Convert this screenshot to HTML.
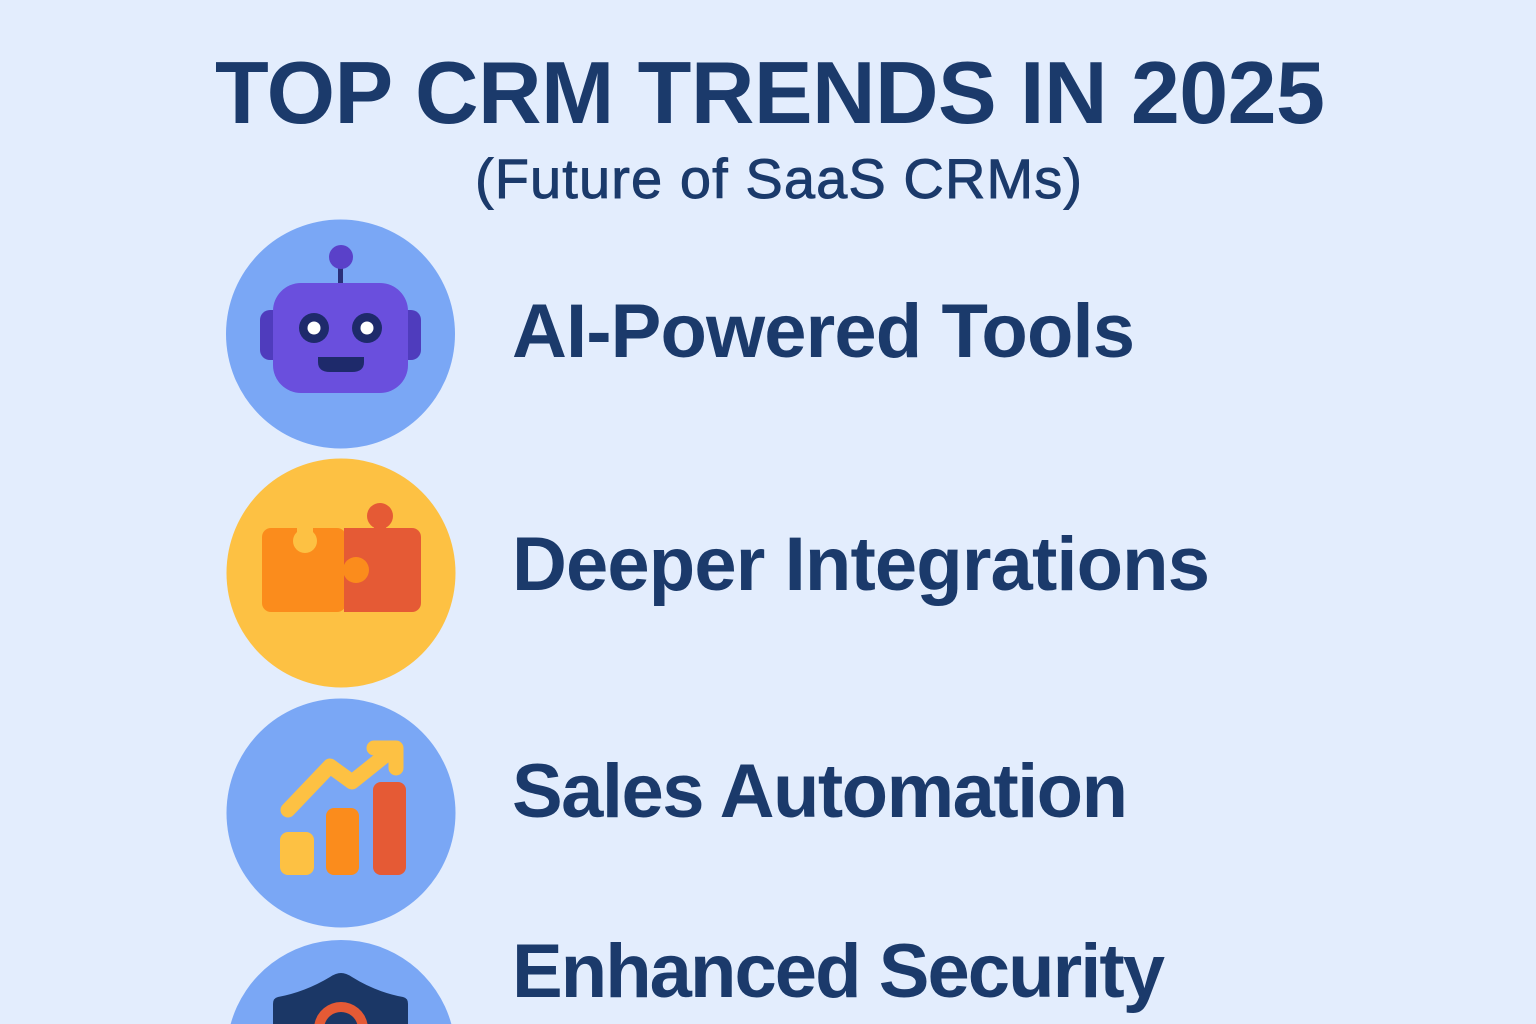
<!DOCTYPE html>
<html>
<head>
<meta charset="utf-8">
<style>
  html, body { margin: 0; padding: 0; background: #e3edfd; width: 1536px; height: 1024px; overflow: hidden; }
  svg { display: block; overflow: hidden; }
  .t { font-family: "Liberation Sans", Arial, sans-serif; fill: #1b3a6b; }
</style>
</head>
<body>
<svg width="1536" height="1024" viewBox="0 0 1536 1024" xmlns="http://www.w3.org/2000/svg">
  <rect x="0" y="0" width="1536" height="1024" fill="#e3edfd"/>

  <!-- Title -->
  <text class="t" x="215" y="123" font-size="88" font-weight="700" textLength="1110" lengthAdjust="spacing">TOP CRM TRENDS IN 2025</text>
  <text class="t" x="475" y="198" font-size="56" font-weight="400" stroke="#1b3a6b" stroke-width="0.9" textLength="607" lengthAdjust="spacing">(Future of SaaS CRMs)</text>

  <!-- Item labels -->
  <text class="t" x="512" y="357" font-size="76" font-weight="700" textLength="623" lengthAdjust="spacing">AI-Powered Tools</text>
  <text class="t" x="512" y="590" font-size="76" font-weight="700" textLength="698" lengthAdjust="spacing">Deeper Integrations</text>
  <text class="t" x="512" y="817" font-size="76" font-weight="700" textLength="616" lengthAdjust="spacing">Sales Automation</text>
  <text class="t" x="512" y="997" font-size="76" font-weight="700" textLength="653" lengthAdjust="spacing">Enhanced Security</text>

  <!-- Circle 1: Robot -->
  <circle cx="340.5" cy="334" r="114.5" fill="#7aa7f5"/>
  <rect x="338" y="262" width="5" height="24" fill="#2a2f7a"/>
  <circle cx="341" cy="257" r="12" fill="#5a41c9"/>
  <rect x="260" y="310" width="30" height="50" rx="10" fill="#4f3cbd"/>
  <rect x="391" y="310" width="30" height="50" rx="10" fill="#4f3cbd"/>
  <rect x="273" y="283" width="135" height="110" rx="28" fill="#6a4fdd"/>
  <circle cx="314" cy="328" r="15" fill="#1e2a6b"/>
  <circle cx="314" cy="328" r="6.5" fill="#ffffff"/>
  <circle cx="367" cy="328" r="15" fill="#1e2a6b"/>
  <circle cx="367" cy="328" r="6.5" fill="#ffffff"/>
  <path d="M318 357 H364 V362 Q364 372 352 372 H330 Q318 372 318 362 Z" fill="#1e2a6b"/>

  <!-- Circle 2: Puzzle -->
  <circle cx="341" cy="573" r="114.5" fill="#fdc143"/>
  <rect x="262" y="528" width="84" height="84" rx="9" fill="#fb8c1c"/>
  <rect x="344" y="528" width="77" height="84" rx="9" fill="#e55a35"/>
  <rect x="344" y="528" width="10" height="84" fill="#e55a35"/>
  <circle cx="380" cy="516" r="13" fill="#e55a35"/>
  <rect x="374" y="520" width="12" height="10" fill="#e55a35"/>
  <circle cx="305" cy="541" r="12" fill="#fdc143"/>
  <rect x="297" y="526" width="16" height="12" fill="#fdc143"/>
  <circle cx="356" cy="570" r="13" fill="#fb8c1c"/>

  <!-- Circle 3: Chart -->
  <circle cx="341" cy="813" r="114.5" fill="#7aa7f5"/>
  <rect x="280" y="832" width="34" height="43" rx="8" fill="#fdc143"/>
  <rect x="326" y="808" width="33" height="67" rx="8" fill="#fb8c1c"/>
  <rect x="373" y="782" width="33" height="93" rx="8" fill="#e55a35"/>
  <polyline points="288,810 330,766 352,782 392,750" fill="none" stroke="#fdc143" stroke-width="15" stroke-linecap="round" stroke-linejoin="round"/>
  <polyline points="374,748 396,748 396,768" fill="none" stroke="#fdc143" stroke-width="15" stroke-linecap="round" stroke-linejoin="round"/>

  <!-- Circle 4: Shield (cropped at bottom edge) -->
  <path d="M230.64 1024 A114.5 114.5 0 0 1 451.36 1024 Z" fill="#7aa7f5"/>
  <path d="M341 973 Q336 973 330 977 Q305 992 278 997 Q273 998 273 1004 L273 1024 L408 1024 L408 1004 Q408 998 403 997 Q376 992 352 977 Q346 973 341 973 Z" fill="#1b3766"/>
  <path d="M314.47 1024 A27 27 0 0 1 367.53 1024 L357.25 1024 A17 17 0 0 0 324.75 1024 Z" fill="#e55a35"/>
</svg>
</body>
</html>
